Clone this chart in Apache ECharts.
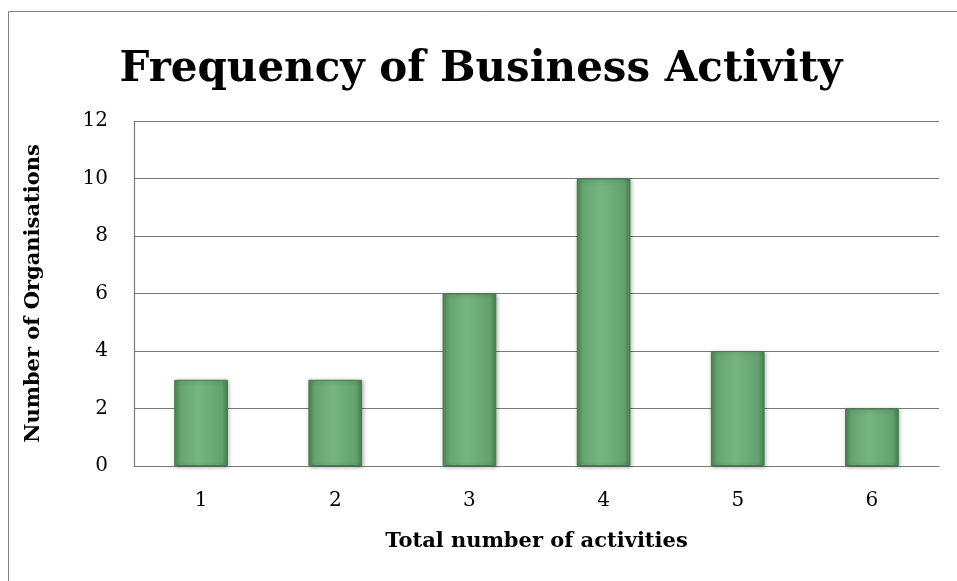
<!DOCTYPE html>
<html>
<head>
<meta charset="utf-8">
<script src="https://cdn.jsdelivr.net/npm/echarts@6/dist/echarts.min.js"></script>
<style>
  html, body { margin: 0; padding: 0; background: #fff; }
  #main { width: 957px; height: 581px; }
</style>
</head>
<body>
<div id="main"></div>
<script>
const categories = ["1", "2", "3", "4", "5", "6"];
const organisations = [3, 3, 6, 10, 4, 2];

const chart = echarts.init(document.getElementById("main"));
const serif = "DejaVu Serif";

const barColor = new echarts.graphic.LinearGradient(0, 0, 1, 0, [
  { offset: 0, color: "#4a8853" },
  { offset: 0.12, color: "#66a56f" },
  { offset: 0.45, color: "#76b57f" },
  { offset: 0.88, color: "#64a26d" },
  { offset: 1, color: "#46824f" },
]);

const option = {
  animation: false,
  graphic: [
    {
      type: "polyline",
      shape: { points: [[8.5, 581], [8.5, 11.5], [957, 11.5]] },
      style: { stroke: "#808080", lineWidth: 1, fill: null },
      silent: true,
    },
  ],
  title: {
    text: "Frequency of Business Activity",
    left: 476,
    textAlign: "center",
    top: 44,
    textStyle: { fontFamily: serif, fontSize: 42, fontWeight: 900, color: "#000" },
  },
  grid: { left: 134, right: 18, top: 121, bottom: 115 },
  xAxis: {
    type: "category",
    data: categories,
    name: "Total number of activities",
    nameLocation: "middle",
    nameGap: 65,
    nameTextStyle: { fontFamily: serif, fontSize: 21, fontWeight: "bold", color: "#000" },
    axisLine: { lineStyle: { color: "#7a7a7a", width: 1.2 } },
    axisTick: { show: false },
    axisLabel: { fontFamily: serif, fontSize: 20, color: "#000", margin: 25 },
  },
  yAxis: {
    type: "value",
    min: 0,
    max: 12,
    interval: 2,
    name: "Number of Organisations",
    nameLocation: "middle",
    nameGap: 90,
    nameRotate: 90,
    nameTextStyle: { fontFamily: serif, fontSize: 21, fontWeight: "bold", color: "#000" },
    axisLine: { show: true, lineStyle: { color: "#7a7a7a", width: 1.2 } },
    axisTick: { show: false },
    axisLabel: { fontFamily: serif, fontSize: 20, color: "#000", margin: 26 },
    splitLine: { lineStyle: { color: "#7a7a7a", width: 1.2 } },
  },
  series: [
    {
      type: "bar",
      data: organisations,
      barWidth: "40%",
      itemStyle: {
        color: barColor,
        borderColor: "#467a4e",
        borderWidth: 1,
        shadowColor: "rgba(0,0,0,0.3)",
        shadowBlur: 4,
        shadowOffsetX: 1,
        shadowOffsetY: 1,
      },
    },
  ],
};

chart.setOption(option);
</script>
</body>
</html>
